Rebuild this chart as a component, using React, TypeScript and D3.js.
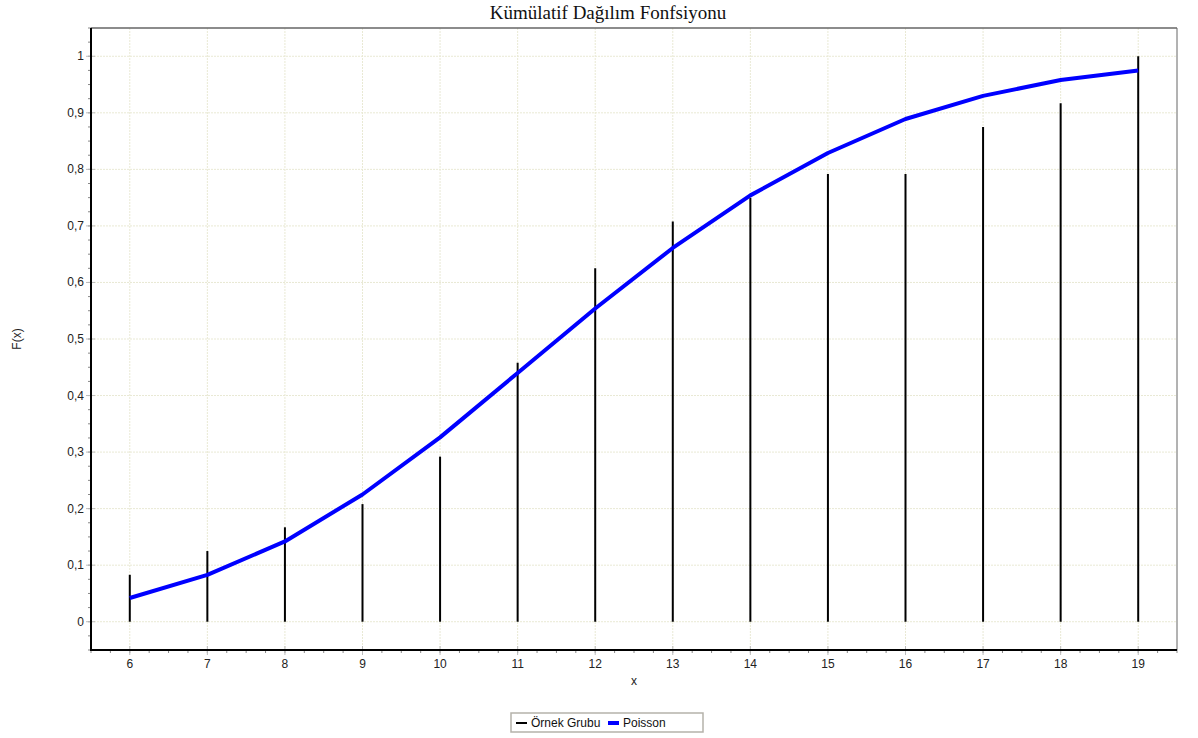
import React, { useEffect, useRef } from 'react';
import * as d3 from 'd3';

const xs = [6, 7, 8, 9, 10, 11, 12, 13, 14, 15, 16, 17, 18, 19];
// sample group empirical CDF (stems)
const sampleCdf = [0.083, 0.125, 0.167, 0.208, 0.292, 0.458, 0.625, 0.708, 0.75, 0.792, 0.792, 0.875, 0.917, 1.0];
// poisson CDF (blue line)
const poissonCdf = [0.042, 0.083, 0.142, 0.225, 0.326, 0.44, 0.554, 0.661, 0.754, 0.829, 0.889, 0.93, 0.958, 0.975];
const yTicks = [0, 0.1, 0.2, 0.3, 0.4, 0.5, 0.6, 0.7, 0.8, 0.9, 1];

const W = 1198;
const H = 738;
const margin = { left: 91, top: 28, right: 21, bottom: 88 };

const App = () => {
  const svgRef = useRef<SVGSVGElement>(null);

  useEffect(() => {
    const svg = d3.select(svgRef.current);
    svg.selectAll('*').remove();

    const x = d3.scaleLinear().domain([5.5, 19.5]).range([margin.left, W - margin.right]);
    const y = d3.scaleLinear().domain([-0.05, 1.05]).range([H - margin.bottom, margin.top]);
    const x0 = margin.left, x1 = W - margin.right, y0 = H - margin.bottom, y1 = margin.top;

    const fmt = (d: number) => (d === 0 || d === 1 ? String(d) : d.toFixed(1).replace('.', ','));

    // grid
    const grid = svg.append('g');
    grid.selectAll('line.gx')
      .data(xs)
      .join('line')
      .attr('x1', d => x(d)).attr('x2', d => x(d))
      .attr('y1', y1).attr('y2', y0)
      .attr('stroke', '#e9e9d4').attr('stroke-width', 1).attr('stroke-dasharray', '2,1');
    grid.selectAll('line.gy')
      .data(yTicks)
      .join('line')
      .attr('y1', d => y(d)).attr('y2', d => y(d))
      .attr('x1', x0).attr('x2', x1)
      .attr('stroke', '#e9e9d4').attr('stroke-width', 1).attr('stroke-dasharray', '2,1');

    // stems
    svg.append('g').selectAll('line')
      .data(xs)
      .join('line')
      .attr('x1', d => x(d)).attr('x2', d => x(d))
      .attr('y1', y(0)).attr('y2', (d, i) => y(sampleCdf[i]))
      .attr('stroke', '#000').attr('stroke-width', 2);

    // poisson line
    const line = d3.line<number>()
      .x((d, i) => x(xs[i]))
      .y(d => y(d));
    svg.append('path')
      .attr('d', line(poissonCdf))
      .attr('fill', 'none')
      .attr('stroke', '#0000ff')
      .attr('stroke-width', 4)
      .attr('stroke-linejoin', 'round');

    // frame
    svg.append('line').attr('x1', x0).attr('x2', x1).attr('y1', y1).attr('y2', y1).attr('stroke', '#666').attr('stroke-width', 1.5);
    svg.append('line').attr('x1', x1).attr('x2', x1).attr('y1', y1).attr('y2', y0).attr('stroke', '#666').attr('stroke-width', 1);

    // minor ticks
    const xMinor = d3.range(5.5, 19.51, 0.25);
    svg.append('g').selectAll('line')
      .data(xMinor)
      .join('line')
      .attr('x1', d => x(d)).attr('x2', d => x(d))
      .attr('y1', y0).attr('y2', y0 + 3)
      .attr('stroke', '#888').attr('stroke-width', 1);
    const yMinor = d3.range(-0.05, 1.051, 0.025);
    svg.append('g').selectAll('line')
      .data(yMinor)
      .join('line')
      .attr('y1', d => y(d)).attr('y2', d => y(d))
      .attr('x1', x0 - 3).attr('x2', x0)
      .attr('stroke', '#888').attr('stroke-width', 1);

    // major ticks
    svg.append('g').selectAll('line')
      .data(xs)
      .join('line')
      .attr('x1', d => x(d)).attr('x2', d => x(d))
      .attr('y1', y0 - 4).attr('y2', y0 + 5)
      .attr('stroke', '#bbb').attr('stroke-width', 1);
    svg.append('g').selectAll('line')
      .data(yTicks)
      .join('line')
      .attr('y1', d => y(d)).attr('y2', d => y(d))
      .attr('x1', x0 - 5).attr('x2', x0 + 4)
      .attr('stroke', '#bbb').attr('stroke-width', 1);

    // axes lines
    svg.append('line').attr('x1', x0).attr('x2', x0).attr('y1', y1).attr('y2', y0 + 1).attr('stroke', '#000').attr('stroke-width', 2);
    svg.append('line').attr('x1', x0 - 1).attr('x2', x1).attr('y1', y0).attr('y2', y0).attr('stroke', '#000').attr('stroke-width', 2);

    // tick labels
    svg.append('g').selectAll('text')
      .data(xs)
      .join('text')
      .attr('x', d => x(d))
      .attr('y', y0 + 18)
      .attr('text-anchor', 'middle')
      .style('font-family', 'Liberation Sans, Arial, sans-serif')
      .style('font-size', '12px')
      .attr('fill', '#222')
      .text(d => d);
    svg.append('g').selectAll('text')
      .data(yTicks)
      .join('text')
      .attr('x', x0 - 7)
      .attr('y', d => y(d) + 4)
      .attr('text-anchor', 'end')
      .style('font-family', 'Liberation Sans, Arial, sans-serif')
      .style('font-size', '12px')
      .attr('fill', '#222')
      .text(d => fmt(d));

    // axis titles
    svg.append('text')
      .attr('x', (x0 + x1) / 2)
      .attr('y', 685)
      .attr('text-anchor', 'middle')
      .style('font-family', 'Liberation Sans, Arial, sans-serif')
      .style('font-size', '12px')
      .attr('fill', '#222')
      .text('x');
    svg.append('text')
      .attr('transform', `translate(21, ${(y0 + y1) / 2}) rotate(-90)`)
      .attr('text-anchor', 'middle')
      .style('font-family', 'Liberation Sans, Arial, sans-serif')
      .style('font-size', '12px')
      .attr('fill', '#222')
      .text('F(x)');

    // title
    svg.append('text')
      .attr('x', 608)
      .attr('y', 19)
      .attr('text-anchor', 'middle')
      .style('font-family', 'Liberation Serif, Times New Roman, serif')
      .style('font-size', '19px')
      .attr('fill', '#111')
      .text('Kümülatif Dağılım Fonfsiyonu');

    // legend
    const legend = svg.append('g').attr('transform', 'translate(511, 713)');
    legend.append('rect')
      .attr('width', 192).attr('height', 19)
      .attr('fill', '#fff').attr('stroke', '#b5b2aa').attr('stroke-width', 1.5);
    const items = [
      { label: 'Örnek Grubu', color: '#000', x: 5, h: 2 },
      { label: 'Poisson', color: '#0000ff', x: 97, h: 4 },
    ];
    items.forEach(it => {
      legend.append('rect')
        .attr('x', it.x).attr('y', 10 - it.h / 2)
        .attr('width', 11).attr('height', it.h)
        .attr('fill', it.color);
      legend.append('text')
        .attr('x', it.x + 15).attr('y', 14)
        .style('font-family', 'Liberation Sans, Arial, sans-serif')
        .style('font-size', '12px')
        .attr('fill', '#111')
        .text(it.label);
    });
  }, []);

  return (
    <svg ref={svgRef} width={W} height={H} viewBox={`0 0 ${W} ${H}`}
      style={{ position: 'absolute', left: 0, top: 0, background: '#fff' }}>
    </svg>
  );
};

export default App;
